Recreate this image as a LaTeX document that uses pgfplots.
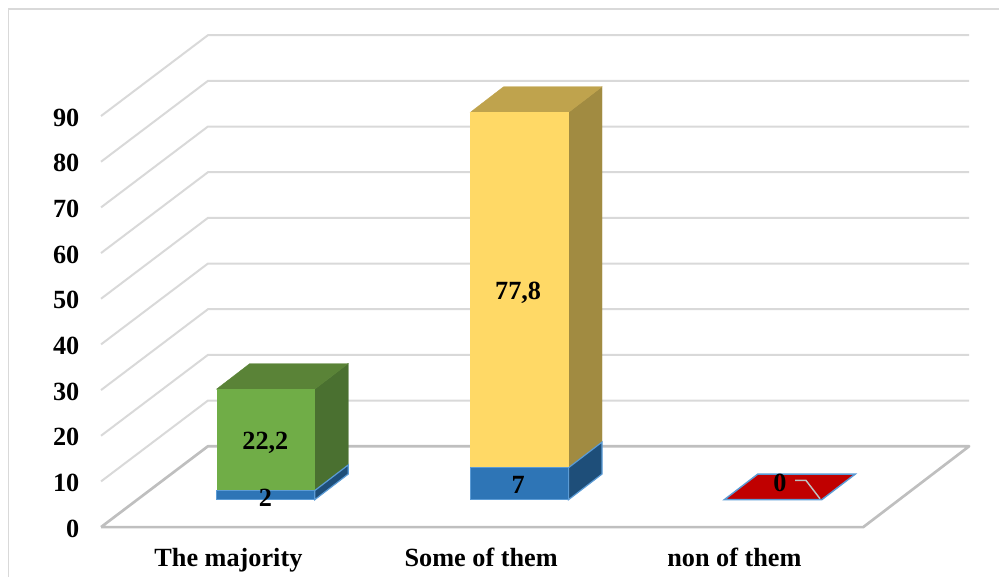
\documentclass[border=0pt]{standalone}
\usepackage{fontspec}
\setmainfont{Liberation Serif}
\usepackage{pgfplots}
\usepackage{pgfplotstable}
\pgfplotsset{compat=1.18}

\definecolor{wallgrid}{HTML}{D9D9D9}
\definecolor{floorline}{HTML}{BFBFBF}
\definecolor{barblue}{HTML}{2E75B6}
\definecolor{barblueside}{HTML}{1E4E79}
\definecolor{bluebord}{HTML}{5B9BD5}
\definecolor{bargreen}{HTML}{70AD47}
\definecolor{bargreentop}{HTML}{5A8337}
\definecolor{bargreenside}{HTML}{4A7030}
\definecolor{baryellow}{HTML}{FFD966}
\definecolor{baryellowtop}{HTML}{BFA34D}
\definecolor{baryellowside}{HTML}{A18B41}
\definecolor{barred}{HTML}{C00000}

% stacked values for each answer; x is the centre of the front face
\pgfplotstableread{
x      blue green yellow red
265.8  2    22.2  0      0
519.8  7    0     77.8   0
773.5  0    0     0      0
}\answers

\newcommand{\lab}{\fontsize{19.7}{22}\selectfont\bfseries}

\pgfplotsset{
  canvas/.style={
    scale only axis, width=750pt, height=432.75pt, at={(0,0)}, anchor=south west,
    xmin=0, xmax=1000, clip=false, enlargelimits=false
  },
  barplane/.style={canvas, hide axis, ymin=-16.84, ymax=109.36}
}

\begin{document}
\begin{tikzpicture}
% walls, floor and the value scale
\begin{axis}[
  canvas, ymin=-10.83, ymax=115.38,
  axis line style={draw=none}, major tick length=0pt,
  ytick={0,10,...,90},
  xtick={228.5,481.5,735},
  xticklabels={The majority,Some of them,non of them},
  /pgf/number format/assume math mode=true,
  yticklabel style={font=\lab, anchor=east, inner sep=0pt, xshift=59.6pt, yshift=-1.1pt},
  xticklabel style={font=\lab, anchor=base, inner sep=0pt, yshift=7.3pt},
]
  \addplot[wallgrid, line width=1.3pt] coordinates {(8.5,-10.83)(8.5,113.41)(1000,113.41)};
  \pgfplotsinvokeforeach{10,20,...,90}{
    \addplot[wallgrid, line width=1.5pt] coordinates {(101,#1)(208,#1+17.7)(970,#1+17.7)};
  }
  \addplot[floorline, line width=2pt, line join=round] coordinates
    {(101,0)(208,17.7)(970,17.7)(864,0)(101,0)};
\end{axis}

% side and top faces of the bars
\begin{axis}[barplane]
  \addplot[fill=bargreenside, draw=bargreenside, line width=.3pt] coordinates {(315,2)(348.5,7.6)(348.5,29.8)(315,24.2)} -- cycle;
  \addplot[fill=bargreentop, draw=bargreentop, line width=.3pt] coordinates {(216.7,24.2)(315,24.2)(348.5,29.8)(250,29.8)} -- cycle;
  \addplot[fill=barblueside, draw=bluebord, line width=.9pt] coordinates {(315,0)(348.5,5.6)(348.5,7.6)(315,2)} -- cycle;

  \addplot[fill=baryellowside, draw=baryellowside, line width=.3pt] coordinates {(569,7)(602.5,12.6)(602.5,90.4)(569,84.8)} -- cycle;
  \addplot[fill=baryellowtop, draw=baryellowtop, line width=.3pt] coordinates {(470.7,84.8)(569,84.8)(602.5,90.4)(504,90.4)} -- cycle;
  \addplot[fill=barblueside, draw=bluebord, line width=.9pt] coordinates {(569,0)(602.5,5.6)(602.5,12.6)(569,7)} -- cycle;

  \addplot[fill=barred, draw=bluebord, line width=1.1pt] coordinates {(725,0)(822.5,0)(856,5.6)(758.5,5.6)} -- cycle;
\end{axis}

% front faces, stacked from the table
\begin{axis}[barplane, ybar stacked, bar width=98.4]
  \addplot[fill=barblue, draw=bluebord, line width=.9pt] table[x=x, y=blue] {\answers};
  \addplot[fill=bargreen, draw=none] table[x=x, y=green] {\answers};
  \addplot[fill=baryellow, draw=none] table[x=x, y=yellow] {\answers};
  \addplot[fill=barred, draw=none] table[x=x, y=red] {\answers};
\end{axis}

% value labels and the leader line of the zero label
\begin{axis}[barplane]
  \addplot[floorline, line width=1.1pt] coordinates {(795.7,4.2)(806.7,4.2)(820.7,0.2)};
  \node[font=\lab, inner sep=0pt] at (axis cs:265.5,12.4) {22,2};
  \node[font=\lab, inner sep=0pt] at (axis cs:265.5,0.5) {2};
  \node[font=\lab, inner sep=0pt] at (axis cs:518.5,45.3) {77,8};
  \node[font=\lab, inner sep=0pt] at (axis cs:518.5,3.2) {7};
  \node[font=\lab, inner sep=0pt] at (axis cs:780.5,3.6) {0};
\end{axis}
\end{tikzpicture}
\end{document}
